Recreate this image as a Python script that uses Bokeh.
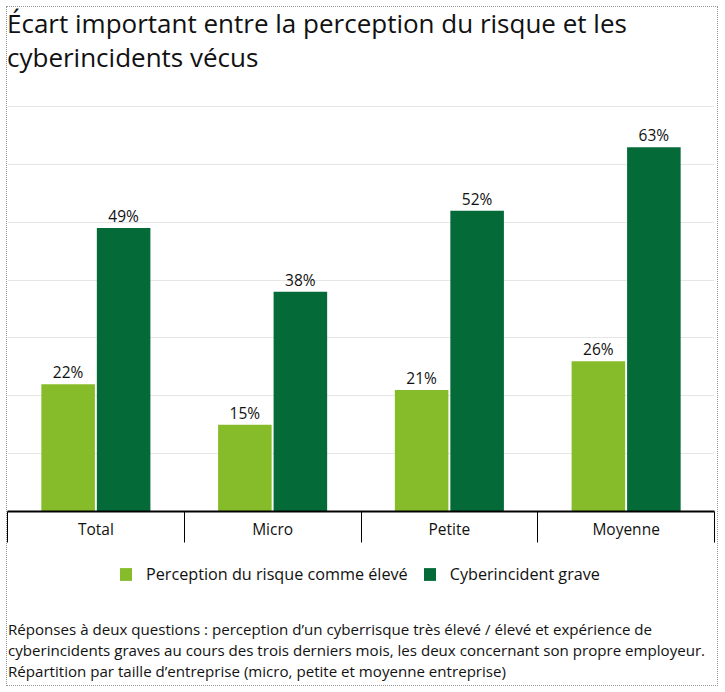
from bokeh.plotting import figure
from bokeh.models import (Range1d, FixedTicker, LinearAxis, Legend, LegendItem,
                          ColumnDataSource, LabelSet, Div)
from bokeh.core.properties import value
from bokeh.layouts import column
from bokeh.transform import dodge
from bokeh.embed import file_html
from bokeh.resources import INLINE
import numpy as np

categories = ["Total", "Micro", "Petite", "Moyenne"]
perception = [22, 15, 21, 26]
incident = [49, 38, 52, 63]
series_names = ["Perception du risque comme élevé", "Cyberincident grave"]
colors = ["#86BC29", "#046A38"]
title_lines = ["Écart important entre la perception du risque et les",
               "cyberincidents vécus"]
note_lines = ["Réponses à deux questions : perception d’un cyberrisque très élevé / élevé et expérience de",
              "cyberincidents graves au cours des trois derniers mois, les deux concernant son propre employeur.",
              "Répartition par taille d’entreprise (micro, petite et moyenne entreprise)"]

FONT = "Open Sans"
W = 710
n = len(categories)
xc = np.arange(n) + 0.5
src = ColumnDataSource(dict(
    x=xc, p=perception, i=incident,
    pl=[f"{v}%" for v in perception], il=[f"{v}%" for v in incident]))

title_div = Div(text='<div style="margin-top:-1px">' + "<br>".join(title_lines) + "</div>",
                width=W, height=90, margin=0,
                styles={"font-family": FONT, "font-size": "26px", "line-height": "34px",
                        "color": "#111"})

p = figure(width=W, height=458, output_backend="svg", toolbar_location=None,
           x_range=Range1d(0, n), y_range=Range1d(0, 70.2),
           x_axis_location=None, y_axis_location=None, margin=0,
           min_border_left=0, min_border_right=3, min_border_top=8, min_border_bottom=44)
p.title = None
p.outline_line_color = None

p.xgrid.visible = False
p.ygrid.ticker = FixedTicker(ticks=list(range(0, 71, 10)))
p.ygrid.grid_line_color = "#e6e6e6"

bw = 0.303
off = 0.157
r1 = p.vbar(x=dodge("x", -off, range=p.x_range), top="p", width=bw, source=src,
            fill_color=colors[0], line_color=None)
r2 = p.vbar(x=dodge("x", off, range=p.x_range), top="i", width=bw, source=src,
            fill_color=colors[1], line_color=None)

for col, lab, o in (("p", "pl", -off), ("i", "il", off)):
    ls = LabelSet(x=dodge("x", o, range=p.x_range), y=col, text=lab, source=src,
                  text_align="center", text_baseline="bottom", y_offset=1,
                  text_font=value(FONT), text_font_size="15.5px", text_color="#111")
    p.add_layout(ls)

xaxis = LinearAxis(ticker=FixedTicker(ticks=list(xc), minor_ticks=list(range(0, n + 1))),
                   major_label_overrides={float(v): c for v, c in zip(xc, categories)},
                   axis_line_color="#000", axis_line_width=2,
                   major_tick_line_color=None, major_tick_in=0, major_tick_out=0,
                   minor_tick_line_color="#000", minor_tick_in=0, minor_tick_out=31,
                   minor_tick_line_width=1,
                   major_label_standoff=-25, major_label_text_font=FONT,
                   major_label_text_font_size="15.5px", major_label_text_color="#111")
p.add_layout(xaxis, "below")

# legend-only strip (its bars lie outside its visible range)
pl = figure(width=W, height=49, output_backend="svg", toolbar_location=None,
            x_range=Range1d(100, 101), y_range=Range1d(100, 101),
            x_axis_location=None, y_axis_location=None, margin=0,
            min_border_left=0, min_border_right=0, min_border_top=0, min_border_bottom=0)
pl.title = None
pl.outline_line_color = None
pl.grid.visible = False
g1 = pl.vbar(x="x", top="p", width=bw, source=src, fill_color=colors[0], line_color=None)
g2 = pl.vbar(x="x", top="i", width=bw, source=src, fill_color=colors[1], line_color=None)
legend = Legend(items=[LegendItem(label=series_names[0], renderers=[g1]),
                       LegendItem(label=series_names[1], renderers=[g2])],
                orientation="horizontal", location=(111, 19),
                label_text_font=FONT, label_text_font_size="16.2px", label_text_color="#111",
                glyph_width=15, glyph_height=16, spacing=14, label_standoff=13,
                border_line_color=None, background_fill_alpha=0,
                padding=4, margin=0)
pl.add_layout(legend)

note_div = Div(text="<br>".join(note_lines), width=W, height=81, margin=0,
               styles={"font-family": FONT, "font-size": "15.1px", "line-height": "21px",
                       "color": "#111", "padding-top": "15px", "padding-left": "1px"})

layout = column(title_div, p, pl, note_div, margin=(6, 0, 0, 6),
                styles={"border": "1px dotted #999"})

open("out.html", "w").write(file_html(layout, INLINE))
